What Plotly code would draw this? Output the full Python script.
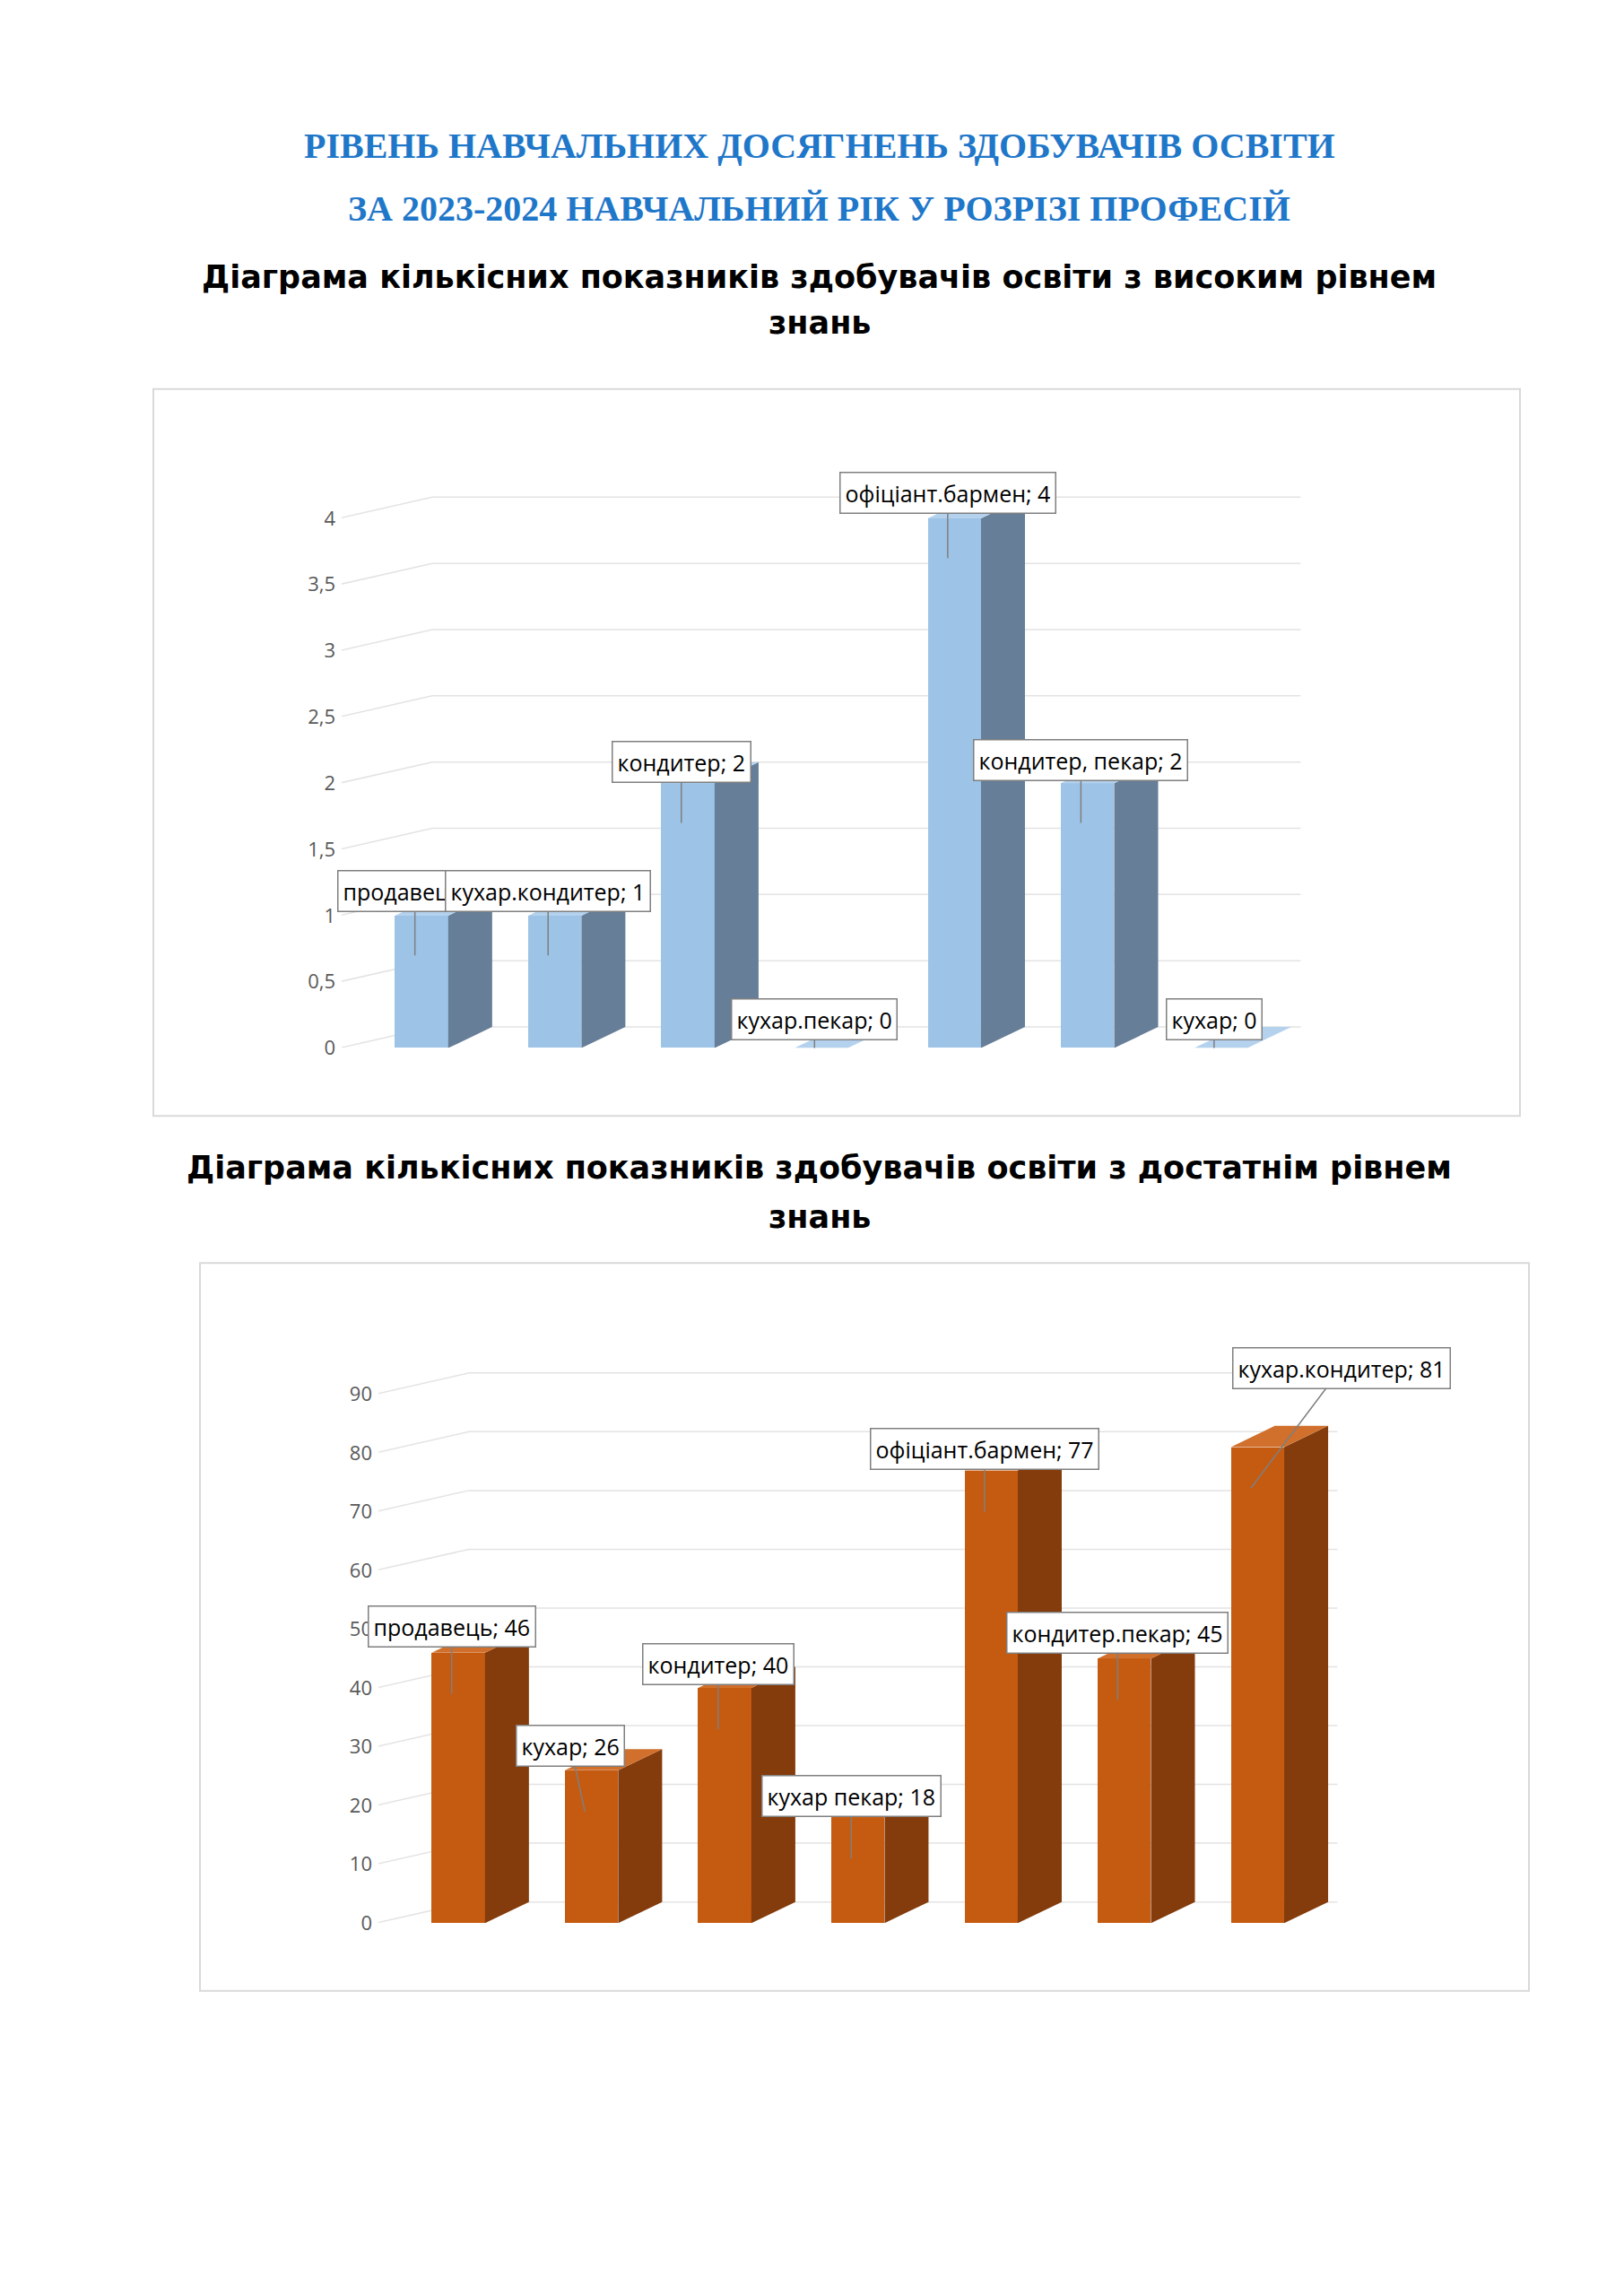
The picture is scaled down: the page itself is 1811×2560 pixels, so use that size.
import plotly.graph_objects as go

W, H = 1811, 2560
title_lines = ["РІВЕНЬ НАВЧАЛЬНИХ ДОСЯГНЕНЬ ЗДОБУВАЧІВ ОСВІТИ", "ЗА 2023-2024 НАВЧАЛЬНИЙ РІК У РОЗРІЗІ ПРОФЕСІЙ"]
sub1 = ["Діаграма кількісних показників здобувачів освіти з високим рівнем", "знань"]
sub2 = ["Діаграма кількісних показників здобувачів освіти з достатнім рівнем", "знань"]

cats1 = ["продавець", "кухар.кондитер", "кондитер", "кухар.пекар", "офіціант.бармен", "кондитер, пекар", "кухар"]
vals1 = [1, 1, 2, 0, 4, 2, 0]
cats2 = ["продавець", "кухар", "кондитер", "кухар пекар", "офіціант.бармен", "кондитер.пекар", "кухар.кондитер"]
vals2 = [46, 26, 40, 18, 77, 45, 81]
ticks1 = [0, 0.5, 1, 1.5, 2, 2.5, 3, 3.5, 4]
ticks2 = [0, 10, 20, 30, 40, 50, 60, 70, 80, 90]

fig = go.Figure()
shapes = []

def add_chart(xa, ya, vals, ticks, dy, front, side, top):
    bw, dx = 0.4, 0.33
    n = len(vals)
    for t in ticks:
        for (x0, y0, x1, y1) in [(-0.62, t, -0.2 + dx - 0.05, t + dy), (-0.2 + dx - 0.05, t + dy, n - 0.4, t + dy)]:
            shapes.append(dict(type="line", xref=xa, yref=ya, x0=x0, y0=y0, x1=x1, y1=y1, layer="below",
                               line=dict(color="#e3e3e3", width=1.5)))
    fig.add_trace(go.Bar(x=list(range(n)), y=vals, width=bw, marker=dict(color=front, line=dict(width=0)),
                         xaxis=xa, yaxis=ya, showlegend=False))
    for i, v in enumerate(vals):
        r = i + bw / 2
        fig.add_trace(go.Scatter(x=[r, r, r + dx, r + dx, r], y=[0, v, v + dy, dy, 0], fill="toself",
                                 fillcolor=side, mode="lines", line=dict(width=0, color=side),
                                 xaxis=xa, yaxis=ya, hoverinfo="skip", showlegend=False))
        l = i - bw / 2
        fig.add_trace(go.Scatter(x=[l, r, r + dx, l + dx, l], y=[v, v, v + dy, v + dy, v], fill="toself",
                                 fillcolor=top, mode="lines", line=dict(width=0, color=top),
                                 xaxis=xa, yaxis=ya, hoverinfo="skip", showlegend=False))

add_chart("x", "y", vals1, ticks1, 0.16, "#9DC3E6", "#667E98", "#B4D2EE")
add_chart("x2", "y2", vals2, ticks2, 3.6, "#C55A11", "#843C0C", "#D0702C")

ann = []
ax1 = [0, 0, 0, 0, 0, 0, 0]
ay1 = [-72, -72, -68, -32, -73, -70, -32]
for i, (c, v) in enumerate(zip(cats1, vals1)):
    ann.append(dict(x=i - 0.05, y=max(v - 0.3, 0), xref="x", yref="y", text=f"{c}; {v}", showarrow=True,
                    ax=ax1[i], ay=ay1[i], arrowhead=0, arrowwidth=1.5, arrowcolor="#7f7f7f",
                    bgcolor="white", bordercolor="#7f7f7f", borderwidth=1.5, borderpad=5,
                    font=dict(family="Open Sans", size=25, color="#000")))
ax2 = [0, -16, 0, 0, 0, 0, 101]
ay2 = [-75, -73, -72, -70, -70, -75, -134]
for i, (c, v) in enumerate(zip(cats2, vals2)):
    ann.append(dict(x=i - 0.05, y=max(v - 7, 0), xref="x2", yref="y2", text=f"{c}; {v}", showarrow=True,
                    ax=ax2[i], ay=ay2[i], arrowhead=0, arrowwidth=1.5, arrowcolor="#7f7f7f",
                    bgcolor="white", bordercolor="#7f7f7f", borderwidth=1.5, borderpad=5,
                    font=dict(family="Open Sans", size=25, color="#000")))

def ptxt(text, py, size, color, family):
    ann.append(dict(x=0.5, y=1 - py / H, xref="paper", yref="paper", text=text, showarrow=False,
                    font=dict(family=family, size=size, color=color), xanchor="center", yanchor="middle"))

ptxt(f"<b>{title_lines[0]}</b>", 155, 40, "#1F77C9", "Liberation Serif")
ptxt(f"<b>{title_lines[1]}</b>", 226, 40, "#1F77C9", "Liberation Serif")
ptxt(f"<b>{sub1[0]}</b>", 303, 35, "#000", "DejaVu Sans")
ptxt(f"<b>{sub1[1]}</b>", 354, 35, "#000", "DejaVu Sans")
ptxt(f"<b>{sub2[0]}</b>", 1301, 35, "#000", "DejaVu Sans")
ptxt(f"<b>{sub2[1]}</b>", 1356, 35, "#000", "DejaVu Sans")

shapes += [
    dict(type="rect", xref="paper", yref="paper", x0=163 / W, x1=1687 / W, y0=1 - 1243 / H, y1=1 - 428 / H,
         line=dict(color="#d9d9d9", width=2)),
    dict(type="rect", xref="paper", yref="paper", x0=215 / W, x1=1697 / W, y0=1 - 2224 / H, y1=1 - 1408 / H,
         line=dict(color="#d9d9d9", width=2)),
]

tickfont = dict(family="Open Sans", size=22, color="#595959")
fig.update_layout(
    width=W, height=H, margin=dict(l=0, r=0, t=0, b=0), paper_bgcolor="white", plot_bgcolor="white",
    separators=", ", annotations=ann, shapes=shapes, bargap=0,
    xaxis=dict(domain=[373 / W, 1487 / W], range=[-0.6, 6.9], visible=False, fixedrange=True),
    yaxis=dict(domain=[1 - 1167 / H, 1 - 484 / H], range=[0, 4.6], tickvals=ticks1, showgrid=False,
               zeroline=False, showline=False, tickfont=tickfont, ticklabelstandoff=6),
    xaxis2=dict(domain=[414 / W, 1528 / W], range=[-0.6, 6.9], visible=False, anchor="y2"),
    yaxis2=dict(domain=[1 - 2148 / H, 1 - 1489 / H], range=[0, 100], tickvals=ticks2, showgrid=False,
                zeroline=False, showline=False, tickfont=tickfont, anchor="x2", ticklabelstandoff=6),
)
fig.write_html("out.html")
